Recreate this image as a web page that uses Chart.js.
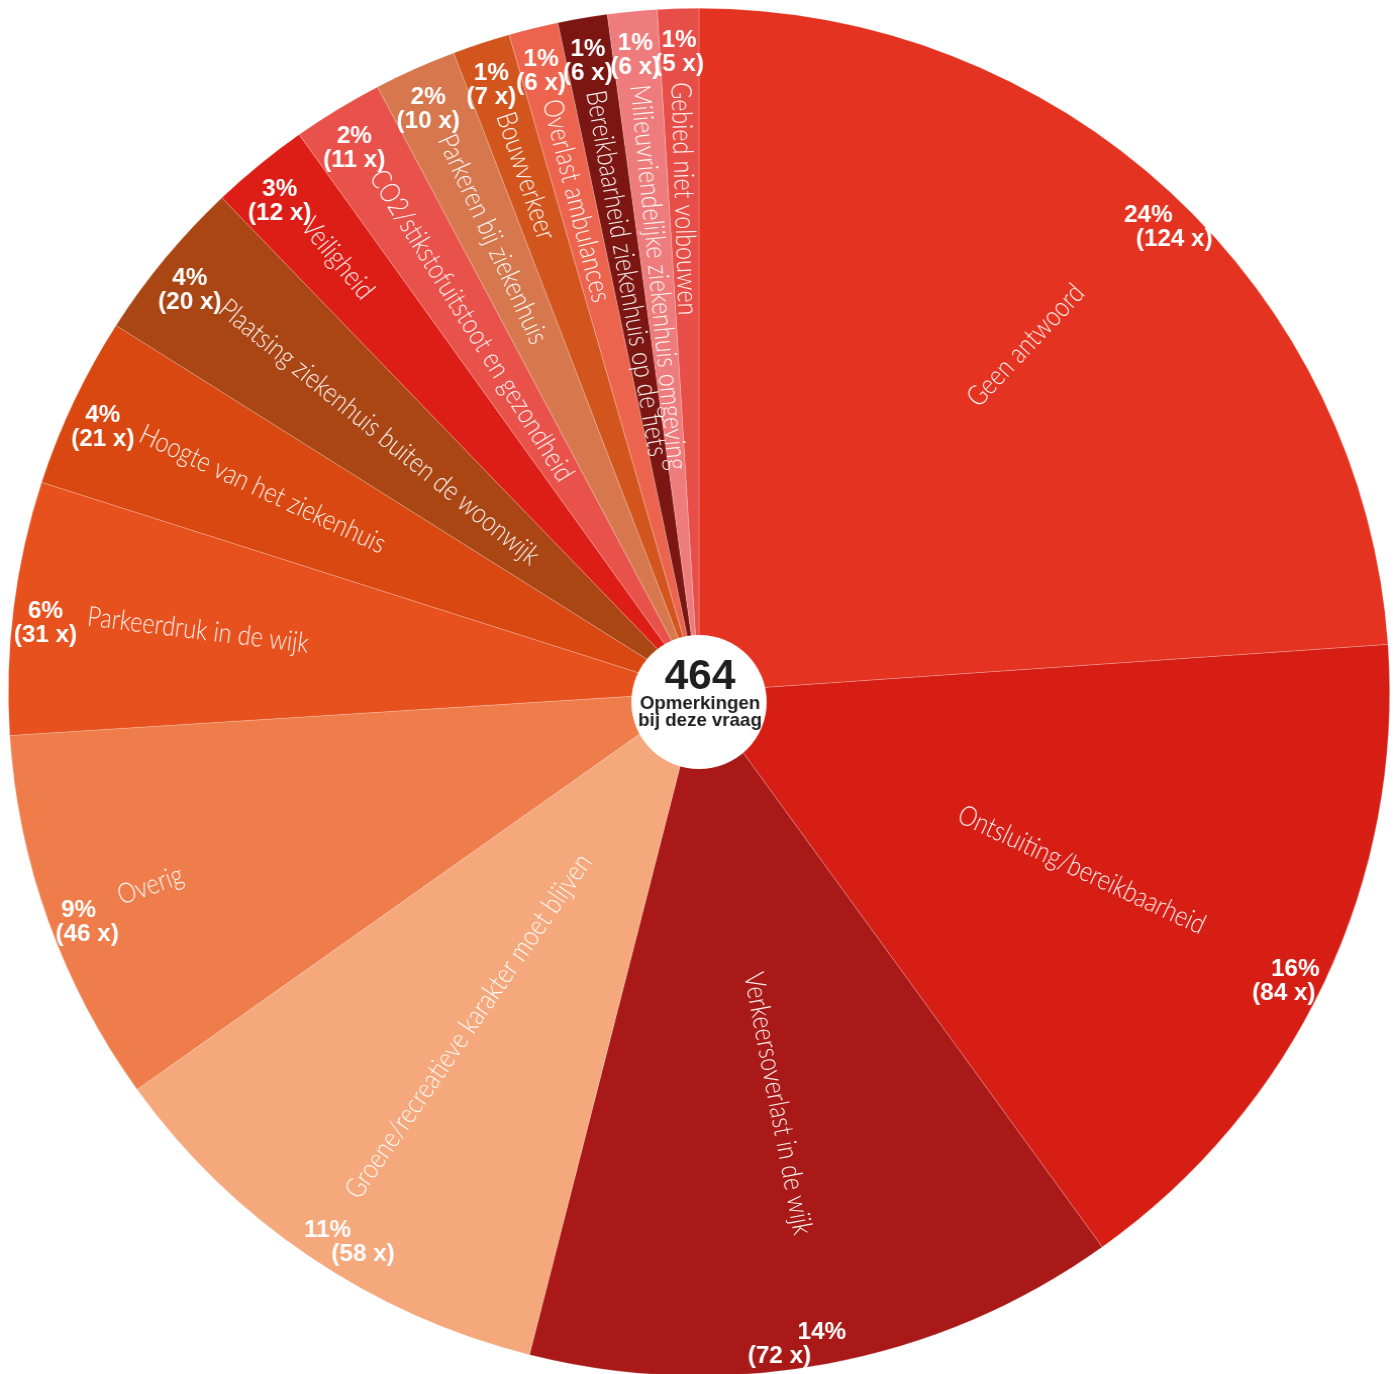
<!DOCTYPE html>
<html>
<head>
<meta charset="utf-8">
<script src="https://cdn.jsdelivr.net/npm/chart.js@4.4.1/dist/chart.umd.min.js"></script>
<style>
  html, body { margin: 0; padding: 0; background: #fff; overflow: hidden; }
  #wrap { width: 1400px; height: 1374px; overflow: hidden; }
  /* the reference pie is a touch wider than tall */
  #pie { transform: scaleX(1.0102); transform-origin: 699px 0; }
</style>
</head>
<body>
<div id="wrap"><canvas id="pie" width="1400" height="1380"></canvas></div>
<script>
// clockwise from 12 o'clock
const categories = [
  'Geen antwoord',
  'Ontsluiting/bereikbaarheid',
  'Verkeersoverlast in de wijk',
  'Groene/recreatieve karakter moet blijven',
  'Overig',
  'Parkeerdruk in de wijk',
  'Hoogte van het ziekenhuis',
  'Plaatsing ziekenhuis buiten de woonwijk',
  'Veiligheid',
  'CO2/stikstofuitstoot en gezondheid',
  'Parkeren bij ziekenhuis',
  'Bouwverkeer',
  'Overlast ambulances',
  'Bereikbaarheid ziekenhuis op de fiets',
  'Milieuvriendelijke ziekenhuis omgeving',
  'Gebied niet volbouwen'
];
const counts = [124, 84, 72, 58, 46, 31, 21, 20, 12, 11, 10, 7, 6, 6, 6, 5];
// percentages as printed in the chart (they add up to 100)
const shares = [24, 16, 14, 11, 9, 6, 4, 4, 3, 2, 2, 1, 1, 1, 1, 1];
const sliceColors = [
  '#E43320', '#D61E15', '#A81917', '#F4A87B', '#EF7D4B', '#E7511E', '#D84810', '#AA4614',
  '#DC1E16', '#E9524B', '#D6774D', '#D2551E', '#EC644E', '#7B1612', '#EE7C7C', '#E84E48'
];
const respondents = 464;
const centerLines = ['Opmerkingen', 'bij deze vraag'];

const labelPlugin = {
  id: 'sliceLabels',
  afterDatasetsDraw(chart) {
    const ctx = chart.ctx;
    const meta = chart.getDatasetMeta(0);
    let cx = 0, cy = 0;
    meta.data.forEach((arc, i) => {
      const p = arc.getProps(['x', 'y', 'startAngle', 'endAngle', 'outerRadius'], true);
      cx = p.x; cy = p.y;
      const mid = (p.startAngle + p.endAngle) / 2;
      const fromTop = mid + Math.PI / 2; // clockwise from 12 o'clock
      const condense = 0.83;

      // category name along the radius
      ctx.save();
      ctx.translate(p.x, p.y);
      ctx.fillStyle = 'rgba(255,255,255,0.95)';
      ctx.font = '300 28px Lato, Roboto, sans-serif';
      ctx.textBaseline = 'middle';
      if (fromTop < Math.PI) {
        ctx.rotate(mid);
        ctx.scale(condense, 1);
        ctx.textAlign = 'right';
        ctx.fillText(categories[i], 552 / condense, 0);
      } else {
        ctx.rotate(mid + Math.PI);
        ctx.scale(condense, 1);
        ctx.textAlign = 'left';
        ctx.fillText(categories[i], -610 / condense, 0);
      }
      ctx.restore();

      // percentage + count near the rim
      const r = 652;
      const rx = Math.cos(mid) * r, ry = Math.sin(mid) * r;
      const x1 = p.x + rx, y1 = p.y + ry;
      let shift = 0;
      if (fromTop < 1.5 * Math.PI && Math.abs(rx) > 1) {
        shift = Math.max(-42, Math.min(42, -(ry / rx) * 24));
      }
      ctx.save();
      ctx.fillStyle = '#fff';
      ctx.font = 'bold 24px "Liberation Sans", Arial, sans-serif';
      ctx.textAlign = 'center';
      ctx.textBaseline = 'middle';
      ctx.fillText(shares[i] + '%', x1, y1);
      ctx.fillText('(' + counts[i] + ' x)', x1 + shift, y1 + 24);
      ctx.restore();
    });

    // white hub with total remarks
    ctx.save();
    ctx.fillStyle = '#fff';
    ctx.beginPath();
    ctx.arc(cx, cy + 10, 67, 0, Math.PI * 2);
    ctx.fill();
    ctx.fillStyle = '#1f1f1f';
    ctx.textAlign = 'center';
    ctx.textBaseline = 'alphabetic';
    ctx.font = 'bold 42px "Liberation Sans", Arial, sans-serif';
    ctx.fillText(String(respondents), cx + 1, cy - 3);
    ctx.font = 'bold 18.5px "Liberation Sans", Arial, sans-serif';
    ctx.fillText(centerLines[0], cx + 1, cy + 17);
    ctx.fillText(centerLines[1], cx + 1, cy + 34);
    ctx.restore();
  }
};

new Chart(document.getElementById('pie'), {
  type: 'pie',
  data: {
    labels: categories,
    datasets: [{
      data: counts,
      backgroundColor: sliceColors,
      borderColor: 'rgba(255,255,255,0.35)',
      borderWidth: 0.6
    }]
  },
  options: {
    responsive: false,
    animation: false,
    layout: { padding: { top: 8, bottom: 4, left: 15, right: 17 } },
    plugins: {
      legend: { display: false },
      tooltip: { enabled: false }
    }
  },
  plugins: [labelPlugin]
});
</script>
</body>
</html>
